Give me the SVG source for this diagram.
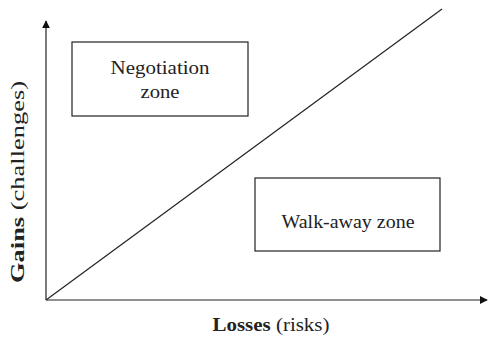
<svg xmlns="http://www.w3.org/2000/svg" width="488" height="337" viewBox="0 0 488 337">
  <style>
    .lbl { font-family: "Liberation Serif", "DejaVu Serif", serif; font-size: 18px; fill: #222; text-anchor: middle; }
    .axis { font-family: "Liberation Serif", "DejaVu Serif", serif; font-size: 19px; fill: #222; text-anchor: middle; }
    .b { font-weight: bold; }
    .box { fill: #fff; stroke: #222; stroke-width: 1.2; }
    .ln { stroke: #222; stroke-width: 1.2; fill: none; }
  </style>
  <defs>
    <marker id="arr" viewBox="0 0 10 10" refX="9" refY="5" markerWidth="8" markerHeight="8" markerUnits="userSpaceOnUse" orient="auto">
      <path d="M0,0 L10,5 L0,10 z" fill="#111"/>
    </marker>
  </defs>
  <rect width="488" height="337" fill="#fff"/>

  <g id="connectors">
    <line class="ln" x1="46" y1="300" x2="46" y2="21" marker-end="url(#arr)" stroke-width="1.5"/>
    <line class="ln" x1="46" y1="300" x2="487" y2="300" marker-end="url(#arr)" stroke-width="1.5"/>
    <line class="ln" x1="46" y1="300" x2="442" y2="9"/>
  </g>

  <g id="negotiation-zone">
    <rect class="box" x="72" y="42" width="176" height="74"/>
    <text class="lbl" x="160" y="74" textLength="99" lengthAdjust="spacingAndGlyphs">Negotiation</text>
    <text class="lbl" x="160" y="98" textLength="39" lengthAdjust="spacingAndGlyphs">zone</text>
  </g>

  <g id="walk-away-zone">
    <rect class="box" x="255" y="178" width="185" height="73"/>
    <text class="lbl" x="348" y="228" textLength="133" lengthAdjust="spacingAndGlyphs">Walk-away zone</text>
  </g>

  <g id="x-label">
    <text class="axis" x="271" y="331" textLength="117" lengthAdjust="spacingAndGlyphs"><tspan class="b">Losses</tspan> (risks)</text>
  </g>

  <g id="y-label">
    <text class="axis" transform="translate(24,182) rotate(-90)" textLength="202" lengthAdjust="spacingAndGlyphs"><tspan class="b">Gains</tspan> (challenges)</text>
  </g>
</svg>
